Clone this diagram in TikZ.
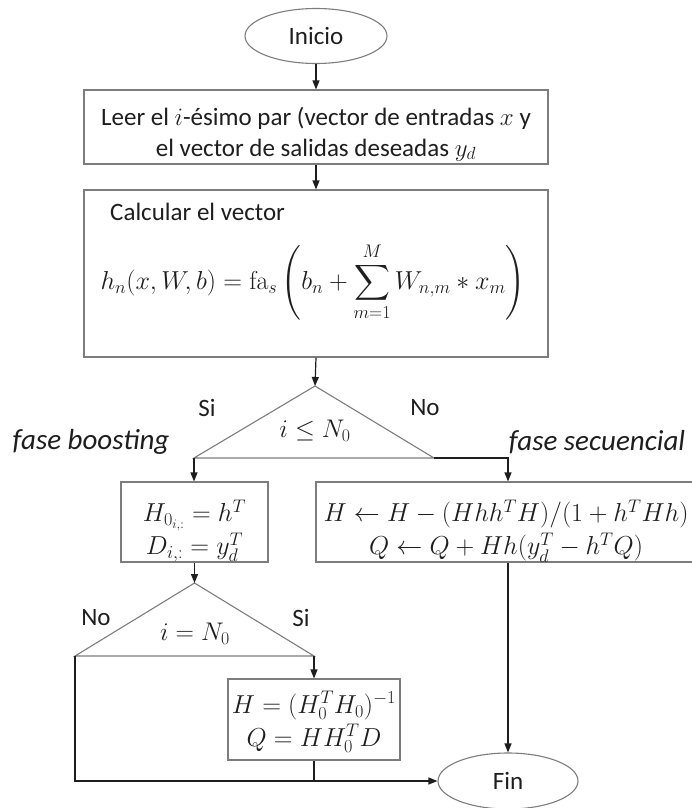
\RequirePackage{fix-cm}
\documentclass[tikz,border=0pt]{standalone}
\usepackage{amsmath}
\usepackage[no-math]{fontspec}
\setmainfont{Carlito}
\usetikzlibrary{arrows.meta,shapes.geometric}
\definecolor{boxgray}{RGB}{125,125,125}
\definecolor{ink}{RGB}{30,30,30}
\tikzset{
  box/.style={draw=boxgray, line width=1.1pt, rectangle, inner sep=0pt},
  oval/.style={draw=boxgray, line width=1.1pt, ellipse, inner sep=0pt, minimum width=142pt, minimum height=55pt, font=\fontsize{25}{30}\selectfont, text=ink},
  tri/.style={draw=boxgray, line width=1.1pt, line join=miter},
  conn/.style={draw=ink, line width=1.2pt},
  arr/.style={conn, -{Triangle[length=9pt,width=7pt]}},
  txt/.style={inner sep=0pt, text=ink, font=\fontsize{25}{31}\selectfont, align=center},
  mtxt/.style={inner sep=0pt, text=ink, font=\fontsize{26}{33}\selectfont, align=center},
  dtxt/.style={inner sep=0pt, text=ink, font=\fontsize{25.5}{30}\selectfont},
  lbl/.style={inner sep=0pt, text=ink, font=\fontsize{25}{30}\selectfont},
  phase/.style={inner sep=0pt, text=ink, font=\fontsize{29}{34}\selectfont\itshape},
}
\begin{document}
\begin{tikzpicture}[x=1pt,y=-1pt]
\useasboundingbox (0,0) rectangle (691,808);
% start
\node[oval] (inicio) at (316,36) {Inicio};
% box 1
\node[box, minimum width=464pt, minimum height=74pt] (b1) at (316,127) {};
\node[txt] (t1) at (316,134) {Leer el $i$-ésimo par (vector de entradas $x$ y\\el vector de salidas deseadas $y_d$};
% box 2
\node[box, minimum width=464pt, minimum height=167pt] (b2) at (316,273.5) {};
\node[lbl, anchor=west] (t2a) at (110,212) {Calcular el vector};
\node[inner sep=0pt, text=ink, font=\fontsize{26}{31}\selectfont] (t2b) at (313,282) {$\displaystyle h_n(x,W,b)=\mathrm{fa}_s\left(b_n+\sum_{m=1}^{M}W_{n,m}*x_m\right)$};
% decision 1
\coordinate (d1top) at (315,386);
\coordinate (d1l) at (194,458);
\coordinate (d1r) at (434,458);
\draw[tri] (d1top) -- (d1r) -- (d1l) -- cycle;
\node[dtxt] (c1) at (315,431) {$i\leq N_0$};
\node[lbl] (si1) at (207,408) {Si};
\node[lbl] (no1) at (425,408) {No};
\node[phase] (fb) at (91,442) {fase boosting};
\node[phase] (fs) at (597,442) {fase secuencial};
% box 3
\node[box, minimum width=147pt, minimum height=80pt] (b3) at (194.5,522) {};
\node[mtxt] (t3) at (194.5,531) {$H_{0_{i,:}}=h^T$\\$D_{i,:}=y_d^T$};
% box 4
\node[box, minimum width=384pt, minimum height=80pt] (b4) at (508,522) {};
\node[mtxt] (t4) at (506,531) {$H\leftarrow H-(Hhh^TH)/(1+h^THh)$\\$Q\leftarrow Q+Hh(y_d^T-h^TQ)$};
% decision 2
\coordinate (d2top) at (194.5,583);
\coordinate (d2l) at (75,656);
\coordinate (d2r) at (314,656);
\draw[tri] (d2top) -- (d2r) -- (d2l) -- cycle;
\node[dtxt] (c2) at (195,634) {$i=N_0$};
\node[lbl] (no2) at (96,618) {No};
\node[lbl] (si2) at (301,618) {Si};
% box 5
\node[box, minimum width=172pt, minimum height=81pt] (b5) at (314,719.5) {};
\node[mtxt] (t5) at (314,722) {$H=(H_0^TH_0)^{-1}$\\$Q=HH_0^TD$};
% end
\node[oval, minimum width=140pt, minimum height=56pt] (fin) at (508,781) {Fin};
% connectors
\draw[arr] (inicio.south) -- (b1.north);
\draw[arr] (b1.south) -- (b2.north);
\draw[arr] (b2.south) -- (d1top);
\draw[arr] (d1l) -- (d1l |- b3.north);
\draw[arr] (d1r) -- (b4.north |- d1r) -- (b4.north);
\draw[arr] (b3.south) -- (d2top);
\draw[arr] (d2r) -- (b5.north);
\draw[arr] (b4.south) -- (fin.north);
\coordinate (j) at (b5.south |- fin.west);
\draw[conn] (b5.south) -- (j);
\draw[arr] (d2l) -- (d2l |- fin.west) -- (fin.west);
\end{tikzpicture}
\end{document}
